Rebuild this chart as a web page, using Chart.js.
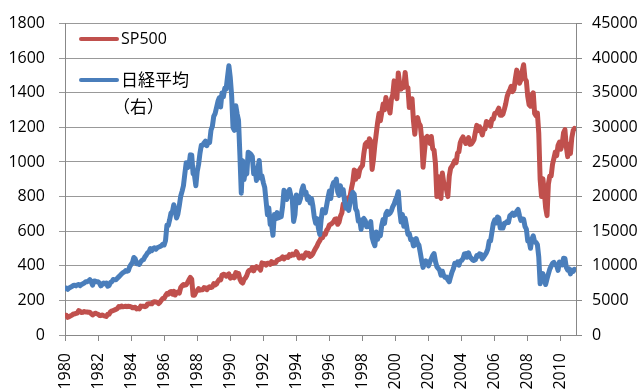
<!DOCTYPE html>
<html>
<head>
<meta charset="utf-8">
<script src="https://cdn.jsdelivr.net/npm/chart.js@4"></script>
<style>
  body { margin: 0; background: #fff; }
  canvas { display: block; }
</style>
</head>
<body>
<canvas id="myChart" width="644" height="392"></canvas>
<script>
// monthly values, Jan 1980 .. Nov 2010
const startYear = 1980;

const sp500 = [
  114, 114, 102, 106, 111, 114, 122, 122, 125, 127, 141, 136,       // 1980
  130, 131, 136, 133, 133, 131, 131, 123, 116, 122, 126, 123,       // 1981
  120, 113, 112, 116, 112, 110, 107, 120, 120, 134, 139, 141,       // 1982
  145, 148, 153, 164, 162, 168, 163, 164, 166, 164, 166, 165,       // 1983
  163, 157, 159, 160, 151, 153, 151, 167, 166, 166, 164, 167,       // 1984
  180, 181, 181, 180, 190, 192, 191, 189, 182, 190, 202, 211,       // 1985
  212, 227, 239, 236, 247, 251, 236, 253, 231, 244, 249, 242,       // 1986
  274, 284, 292, 288, 290, 304, 319, 333, 322, 230, 230, 247,       // 1987
  257, 268, 259, 261, 262, 274, 272, 262, 272, 279, 274, 278,       // 1988
  297, 289, 295, 310, 321, 318, 346, 351, 349, 340, 346, 353,       // 1989
  329, 332, 340, 331, 361, 358, 356, 323, 306, 300, 322, 330,       // 1990
  344, 367, 375, 375, 390, 371, 388, 395, 388, 392, 375, 417,       // 1991
  409, 413, 404, 415, 415, 408, 424, 414, 418, 419, 431, 436,       // 1992
  439, 443, 452, 440, 450, 451, 448, 464, 459, 468, 462, 466,       // 1993
  482, 467, 446, 451, 457, 444, 458, 475, 463, 472, 454, 459,       // 1994
  470, 487, 501, 515, 533, 545, 562, 562, 584, 582, 605, 616,       // 1995
  636, 640, 646, 654, 669, 671, 640, 652, 687, 705, 757, 741,       // 1996
  786, 791, 757, 801, 848, 885, 954, 900, 947, 915, 955, 970,       // 1997
  980, 1049, 1102, 1112, 1091, 1134, 1121, 957, 1017, 1099, 1164, 1229,   // 1998
  1280, 1238, 1286, 1335, 1302, 1373, 1329, 1320, 1283, 1363, 1389, 1469, // 1999
  1394, 1366, 1515, 1452, 1421, 1455, 1431, 1518, 1437, 1429, 1315, 1320, // 2000
  1366, 1240, 1160, 1249, 1256, 1224, 1211, 1134, 970, 1060, 1139, 1148,  // 2001
  1130, 1107, 1147, 1077, 1067, 990, 800, 916, 815, 790, 936, 880,        // 2002
  856, 841, 800, 917, 964, 975, 990, 1008, 996, 1051, 1058, 1112,         // 2003
  1131, 1145, 1126, 1107, 1121, 1141, 1102, 1104, 1115, 1130, 1174, 1212, // 2004
  1181, 1204, 1181, 1157, 1192, 1191, 1234, 1220, 1229, 1207, 1249, 1248, // 2005
  1280, 1281, 1295, 1311, 1270, 1270, 1277, 1304, 1336, 1378, 1401, 1418, // 2006
  1438, 1407, 1421, 1482, 1531, 1503, 1455, 1474, 1527, 1562, 1481, 1468, // 2007
  1379, 1331, 1323, 1386, 1400, 1280, 1267, 1283, 1166, 900, 800, 903,    // 2008
  826, 735, 690, 873, 919, 919, 987, 1021, 1057, 1036, 1096, 1115,        // 2009
  1074, 1104, 1169, 1187, 1089, 1031, 1102, 1049, 1141, 1183, 1195        // 2010
];

const nikkei = [
  6700, 6800, 6600, 6800, 6900, 7000, 7150, 7200, 7100, 7250, 7300, 7116,             // 1980
  7300, 7400, 7500, 7700, 7700, 7800, 8000, 7700, 7200, 7800, 7800, 7681,             // 1981
  7700, 7500, 7100, 7300, 7500, 7400, 7500, 7050, 7150, 7600, 7700, 8016,             // 1982
  8000, 8000, 8200, 8400, 8600, 8800, 9000, 9100, 9300, 9200, 9300, 9893,             // 1983
  10200, 10500, 11200, 11000, 10300, 10300, 10200, 10600, 10800, 10900, 11300, 11542, // 1984
  11900, 12000, 12500, 12200, 12500, 12600, 12400, 12600, 12700, 12800, 12900, 13113, // 1985
  13024, 13641, 15860, 15825, 16663, 17654, 17813, 18820, 17852, 16910, 17508, 18701, // 1986
  20048, 20766, 21566, 23274, 24901, 24176, 24489, 26029, 26011, 23329, 23083, 21564, // 1987
  23622, 24654, 26260, 27434, 27417, 27769, 28000, 27366, 27924, 27826, 29579, 30159, // 1988
  31581, 31985, 32839, 33713, 34267, 32949, 34954, 34431, 35637, 35549, 37269, 38916, // 1989
  37189, 34592, 29980, 29584, 33131, 31940, 31036, 25978, 20500, 25194, 22455, 23849, // 1990
  23293, 26409, 26292, 26111, 25790, 23291, 24121, 22336, 23916, 25222, 22687, 22984, // 1991
  22023, 21339, 19346, 17391, 18348, 15952, 15910, 14400, 17399, 16767, 17684, 16925, // 1992
  17024, 17098, 18591, 20919, 20552, 19590, 20380, 21027, 20106, 19703, 16408, 17417, // 1993
  20229, 19112, 19112, 19725, 20973, 21552, 20449, 20629, 19564, 19990, 19076, 19723, // 1994
  18650, 17053, 16140, 16807, 15437, 14517, 16678, 18117, 17913, 17655, 18744, 19868, // 1995
  20813, 19734, 21407, 22041, 21956, 22531, 20693, 20167, 21556, 20466, 21020, 19361, // 1996
  18330, 18557, 18003, 19151, 20069, 20605, 20331, 18229, 17888, 16459, 16636, 15259, // 1997
  16628, 16832, 16527, 15641, 15671, 15831, 16379, 14108, 13406, 12900, 14884, 13842, // 1998
  14499, 14368, 15837, 16702, 16112, 17530, 17862, 17437, 17605, 17942, 18558, 18934, // 1999
  19540, 19960, 20700, 17974, 16332, 17411, 15727, 16861, 15747, 14539, 14649, 13786, // 2000
  13844, 12884, 12999, 13934, 13262, 12969, 11861, 10714, 9775, 10366, 10697, 10543,  // 2001
  9998, 10588, 11025, 11493, 11764, 10622, 9877, 9619, 9383, 8640, 9216, 8579,        // 2002
  8340, 8363, 7973, 7700, 8425, 9083, 9563, 10344, 10219, 10560, 10101, 10677,        // 2003
  10784, 11042, 11715, 11762, 11236, 11859, 11326, 11082, 10824, 10771, 10899, 11489, // 2004
  11388, 11741, 11669, 11009, 11277, 11584, 11900, 12414, 13574, 13607, 14872, 16111, // 2005
  16650, 16205, 17060, 16906, 15467, 15505, 15457, 16141, 16128, 16399, 16274, 17226, // 2006
  17383, 17604, 17288, 17400, 17876, 18138, 17249, 16569, 16786, 16738, 15681, 15308, // 2007
  13592, 13604, 12526, 13850, 14339, 13481, 13377, 13073, 11260, 7400, 8512, 8860,    // 2008
  7994, 7300, 8110, 8828, 9523, 9958, 10357, 10493, 10133, 10035, 9346, 10546,        // 2009
  10198, 10126, 11090, 11057, 9769, 9383, 9537, 8824, 9369, 9202, 9500                // 2010
];

const yearTicks = [1980, 1982, 1984, 1986, 1988, 1990, 1992, 1994, 1996, 1998,
                   2000, 2002, 2004, 2006, 2008, 2010];

const legendRows = [
  { text: 'SP500', color: '#C0504D' },
  { text: '日経平均', color: '#4A7EBB' },
  { text: '（右）', color: null }
];

const tickFont = { family: '"Open Sans", sans-serif', size: 16 };

function toPoints(values) {
  return values.map((v, i) => ({ x: startYear + i / 12, y: v }));
}

// legend drawn by hand so the "(右)" line can sit under the label
const handLegend = {
  id: 'handLegend',
  afterDraw(chart) {
    const c = chart.ctx;
    const rowY = [39, 80, 107];
    c.save();
    c.textBaseline = 'middle';
    c.fillStyle = '#000';
    legendRows.forEach((row, i) => {
      if (row.color) {
        c.strokeStyle = row.color;
        c.lineWidth = 4;
        c.lineCap = 'round';
        c.beginPath();
        c.moveTo(81, rowY[i]);
        c.lineTo(117, rowY[i]);
        c.stroke();
      }
      const latin = /^[A-Za-z0-9]+$/.test(row.text);
      c.font = latin ? '16px "Open Sans"' : '17px "Noto Sans CJK JP"';
      c.fillText(row.text, i === 2 ? 113 : 121, rowY[i]);
    });
    c.restore();
  }
};

new Chart(document.getElementById('myChart'), {
  type: 'line',
  data: {
    datasets: [
      {
        label: 'SP500',
        data: toPoints(sp500),
        yAxisID: 'y',
        borderColor: '#C0504D',
        borderWidth: 5,
        pointRadius: 0,
        borderJoinStyle: 'round',
        borderCapStyle: 'round',
        order: 2
      },
      {
        label: '日経平均（右）',
        data: toPoints(nikkei),
        yAxisID: 'y1',
        borderColor: '#4A7EBB',
        borderWidth: 5,
        pointRadius: 0,
        borderJoinStyle: 'round',
        borderCapStyle: 'round',
        order: 1
      }
    ]
  },
  options: {
    responsive: false,
    animation: false,
    layout: { padding: { top: 22, left: 0, right: 0, bottom: 0 } },
    scales: {
      x: {
        type: 'linear',
        min: 1980,
        max: 2010.92,
        afterBuildTicks: s => { s.ticks = yearTicks.map(v => ({ value: v })); },
        afterFit: s => { s.height = 57; },
        ticks: {
          minRotation: 90,
          maxRotation: 90,
          padding: 12,
          color: '#000',
          font: tickFont,
          callback: v => String(v)
        },
        grid: { drawOnChartArea: false, tickLength: 6, color: '#888' },
        border: { color: '#888' }
      },
      y: {
        position: 'left',
        min: 0,
        max: 1800,
        afterFit: s => { s.width = 65; },
        ticks: { stepSize: 200, padding: 14, color: '#000', font: tickFont, callback: v => String(v) },
        grid: { color: '#999', tickLength: 6 },
        border: { color: '#888' }
      },
      y1: {
        position: 'right',
        min: 0,
        max: 45000,
        afterFit: s => { s.width = 68; },
        ticks: { stepSize: 5000, padding: 10, color: '#000', font: tickFont, callback: v => String(v) },
        grid: { drawOnChartArea: false, tickLength: 6, color: '#888' },
        border: { color: '#888' }
      }
    },
    plugins: {
      legend: { display: false },
      tooltip: { enabled: false }
    }
  },
  plugins: [handLegend]
});
</script>
</body>
</html>
